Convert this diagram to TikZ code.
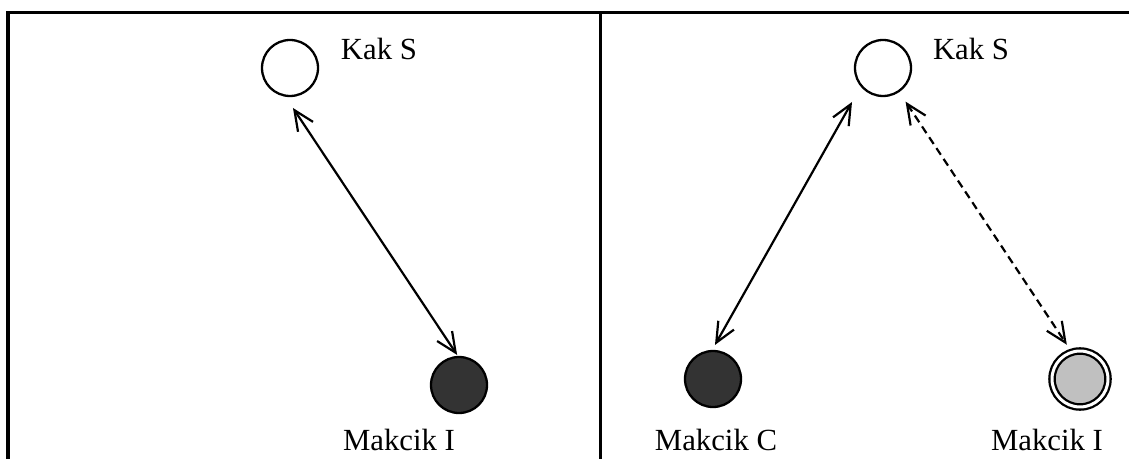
\documentclass[tikz,border=0pt]{standalone}
\usepackage{fontspec}
\setmainfont{Liberation Serif}
\usetikzlibrary{arrows.meta, positioning}
\definecolor{fillDark}{HTML}{333333}
\definecolor{fillGrey}{HTML}{C0C0C0}

\begin{document}
\begin{tikzpicture}[
    x=0.02cm, y=-0.02cm,
    person/.style={circle, draw, line width=1.3pt, minimum size=1.12cm, inner sep=0pt, outer sep=0pt},
    persontext/.style={font=\fontsize{17.5}{20}\selectfont, anchor=base, inner sep=0pt},
    link/.style={{Straight Barb[length=0.4cm,width=0.36cm]}-{Straight Barb[length=0.4cm,width=0.36cm]}, line width=1.25pt},
    frame/.style={line width=2pt},
]
    \useasboundingbox (0,0) rectangle (1129,459);

    % panel frame
    \draw[frame] (8,459) -- (8,12.5) -- (1129,12.5);
    \draw[frame] (600.5,12.5) -- (600.5,459);

    % left panel
    \node[person] (kakL) at (290,68) {};
    \node[person, fill=fillDark] (makIL) at (459,385) {};
    \node[persontext] (kakLtext) at (379,60) {Kak S};
    \node[persontext] (makILtext) at (399,450) {Makcik I};

    % right panel
    \node[person] (kakR) at (883,68) {};
    \node[person, fill=fillDark] (makC) at (713,379) {};
    \node[person, fill=fillGrey, double, double distance=0.06cm] (makIR) at (1080,379) {};
    \node[persontext] (kakRtext) at (971,60) {Kak S};
    \node[persontext] (makCtext) at (716,450) {Makcik C};
    \node[persontext] (makIRtext) at (1047,450) {Makcik I};

    \draw[link, shorten <=0.3cm, shorten >=0.05cm] (kakL.-101) -- (makIL.91);
    \draw[link, shorten <=0.376cm, shorten >=0.14cm] (kakR.-141) -- (makC.93);
    \draw[link, dash pattern=on 0.16cm off 0.1cm, shorten <=0.25cm, shorten >=0.18cm] (kakR.-56) -- (makIR.107);
\end{tikzpicture}
\end{document}
